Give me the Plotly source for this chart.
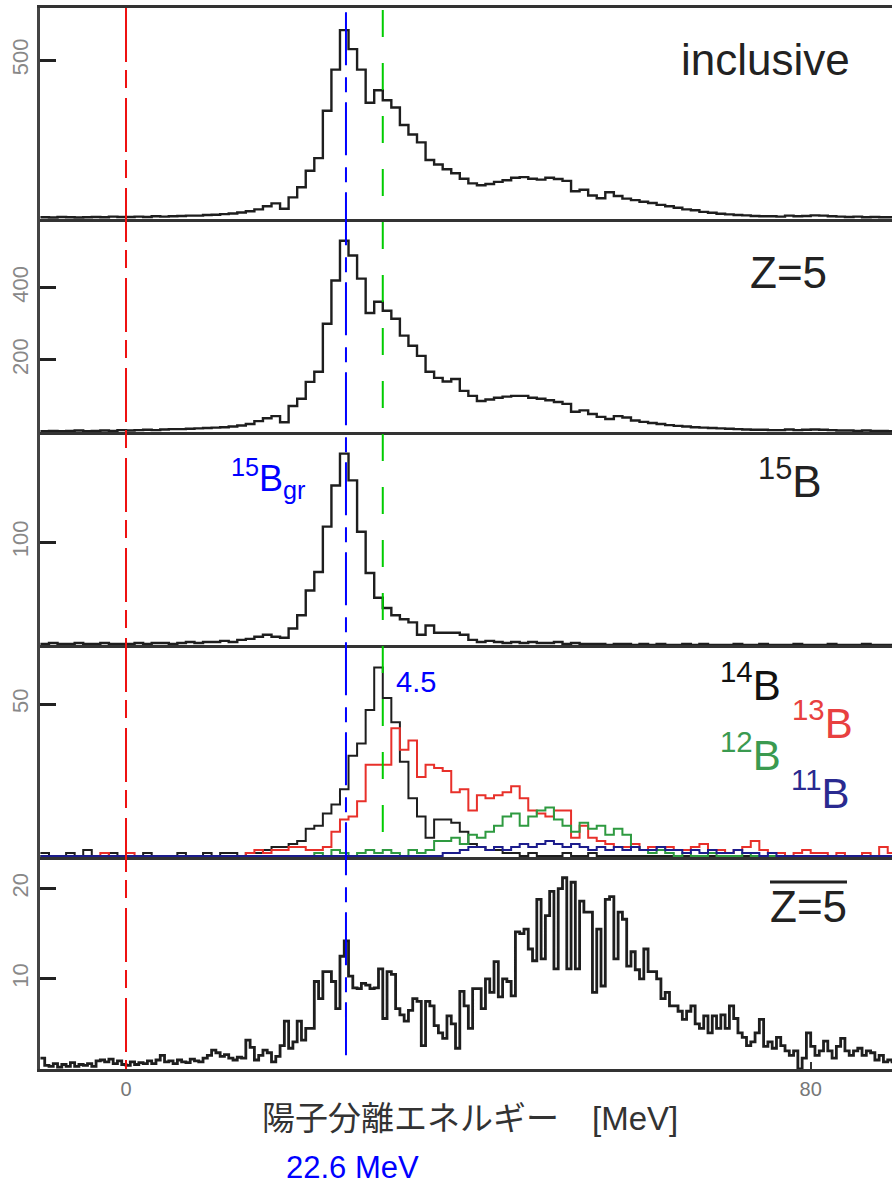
import plotly.graph_objects as go

# ---------------- data ----------------
BIN_START = -10.0
BIN_W = 1.0          # panels 1-4
BIN_W5 = 0.5         # panel 5

inclusive = [
    3, 2, 4, 3, 2, 3, 4, 3, 5, 4,
    4, 5, 4, 6, 5, 6, 7, 8, 8, 10,
    11, 13, 15, 18, 22, 28, 38, 47, 30, 66,
    98, 150, 190, 340, 470, 595, 535, 470, 365, 405,
    373, 350, 295, 265, 240, 184, 170, 155, 142, 125,
    110, 104, 108, 115, 120, 128, 130, 125, 122, 128,
    124, 118, 85, 90, 72, 63, 82, 70, 62, 57,
    52, 48, 42, 38, 33, 28, 25, 20, 17, 14,
    12, 10, 9, 7, 6, 6, 5, 8, 6, 7,
    9, 8, 6, 5, 4, 5, 3, 4, 3, 3]

z5 = [
    2, 3, 2, 3, 4, 2, 3, 4, 3, 5,
    4, 5, 6, 5, 7, 8, 8, 9, 10, 11,
    12, 13, 15, 18, 22, 30, 38, 44, 27, 72,
    92, 139, 167, 300, 420, 530, 489, 425, 330, 361,
    336, 314, 267, 239, 211, 167, 150, 140, 147, 114,
    100, 86, 90, 95, 98, 100, 100, 95, 92, 88,
    83, 78, 56, 60, 50, 42, 36, 44, 40, 32,
    28, 25, 22, 19, 17, 15, 13, 12, 11, 10,
    9, 8, 7, 6, 6, 5, 5, 7, 5, 6,
    7, 6, 5, 4, 4, 3, 4, 3, 3, 2]

b15 = [
    1, 2, 1, 1, 2, 1, 1, 2, 1, 1,
    1, 2, 1, 2, 2, 1, 2, 3, 2, 3,
    3, 4, 3, 5, 6, 8, 10, 8, 7, 16,
    29, 53, 71, 115, 155, 186, 160, 110, 70, 46,
    36, 29, 25, 22, 10, 19, 12, 12, 12, 10,
    5, 3, 4, 3, 2, 3, 2, 3, 2, 2,
    3, 1, 2, 1, 1, 1, 0, 1, 1, 0,
    1, 0, 1, 0, 0, 1, 0, 1, 0, 0,
    0, 1, 0, 0, 1, 0, 0, 0, 1, 0,
    0, 0, 1, 0, 0, 0, 1, 0, 0, 0]

b14 = [
    1, 0, 0, 1, 0, 2, 0, 0, 1, 0,
    0, 0, 1, 0, 0, 0, 1, 0, 0, 1,
    0, 1, 1, 0, 1, 1, 2, 3, 3, 4,
    5, 9, 10, 14, 17, 22, 33, 37, 48, 62,
    52, 44, 31, 19, 13, 6, 12, 12, 11, 8,
    4, 3, 2, 2, 1, 1, 0, 1, 0, 0,
    0, 1, 0, 0, 1, 0, 0, 0, 0, 0,
    0, 0, 0, 0, 0, 0, 0, 0, 0, 0,
    0, 0, 0, 0, 0, 0, 0, 0, 0, 0,
    0, 0, 0, 0, 0, 0, 0, 0, 0, 0]

b13 = [
    0, 0, 0, 0, 0, 0, 0, 1, 0, 0,
    1, 0, 0, 0, 0, 0, 0, 0, 0, 0,
    0, 0, 0, 0, 1, 2, 1, 2, 2, 3,
    3, 2, 2, 3, 8, 12, 13, 18, 30, 30,
    30, 42, 35, 38, 26, 30, 29, 28, 21, 22,
    15, 20, 19, 20, 21, 23, 19, 15, 14, 13,
    15, 15, 6, 10, 6, 5, 4, 3, 3, 4,
    2, 3, 2, 3, 2, 2, 3, 4, 2, 2,
    1, 2, 3, 5, 2, 1, 1, 0, 1, 2,
    1, 1, 0, 1, 0, 0, 1, 0, 3, 1]

b12 = [
    0, 0, 0, 0, 0, 0, 0, 0, 0, 0,
    0, 0, 0, 0, 0, 0, 0, 0, 0, 0,
    0, 0, 0, 0, 0, 0, 0, 0, 0, 0,
    0, 0, 1, 0, 2, 1, 0, 1, 2, 1,
    2, 1, 0, 2, 1, 2, 5, 5, 6, 4,
    7, 6, 8, 10, 13, 14, 10, 13, 15, 16,
    12, 10, 8, 11, 9, 10, 7, 9, 7, 3,
    2, 1, 2, 1, 0, 1, 0, 0, 1, 0,
    0, 0, 1, 0, 0, 0, 0, 0, 0, 0,
    0, 0, 0, 0, 0, 0, 0, 0, 0, 0]

b11 = [
    0, 0, 0, 0, 0, 0, 0, 0, 0, 0,
    0, 0, 0, 0, 0, 0, 0, 0, 0, 0,
    0, 0, 0, 0, 0, 0, 0, 0, 0, 0,
    0, 0, 0, 0, 0, 0, 0, 0, 0, 0,
    0, 0, 0, 0, 0, 0, 0, 1, 1, 2,
    3, 3, 2, 3, 2, 3, 4, 3, 4, 5,
    4, 3, 4, 3, 2, 3, 2, 3, 2, 3,
    2, 2, 3, 2, 2, 1, 2, 1, 2, 1,
    1, 2, 1, 1, 0, 1, 0, 0, 0, 0,
    0, 0, 0, 0, 0, 0, 0, 0, 0, 0]

notz5 = [
    1.2, 0.4, 0.3, 0.6, 0.2, 0.5, 0.3, 0.7, 0.3, 0.5,
    0.4, 0.6, 0.3, 0.9, 1.0, 0.8, 1.1, 0.6, 0.9, 0.5,
    0.4, 0.8, 0.5, 0.7, 0.6, 0.9, 0.6, 1.0, 1.5, 0.8,
    0.9, 0.6, 1.0, 0.8, 0.7, 1.1, 0.9, 0.8, 1.2, 1.5,
    2.1, 1.8, 1.4, 1.6, 1.2, 1.0, 1.3, 1.2, 3.2, 2.4,
    1.0, 1.5, 2.1, 1.8, 0.8, 1.4, 2.6, 5.3, 2.3, 3.0,
    5.3, 3.2, 4.5, 4.5, 9.7, 7.8, 10.8, 10.8, 9.7, 6.7,
    12.5, 14.2, 10.3, 9.0, 8.9, 9.5, 9.3, 8.9, 9.0, 11.1,
    5.6, 10.8, 10.5, 6.7, 6.0, 5.3, 6.5, 7.8, 7.5, 2.6,
    7.5, 7.0, 4.8, 4.0, 3.4, 5.9, 5.0, 2.3, 8.6, 7.0,
    4.5, 8.9, 8.9, 6.7, 10.0, 8.5, 11.9, 8.0, 10.0, 9.7,
    8.1, 15.2, 15.0, 15.5, 13.3, 12.0, 18.8, 12.2, 17.0, 19.7,
    11.1, 20.0, 21.2, 11.1, 20.7, 11.1, 18.6, 17.4, 17.4, 8.5,
    15.5, 9.2, 18.8, 19.1, 12.2, 17.4, 16.6, 11.4, 13.0, 11.0,
    10.0, 13.3, 10.8, 10.8, 10.0, 7.8, 8.5, 7.0, 7.0, 6.4,
    5.5, 6.4, 7.0, 5.0, 4.5, 5.9, 4.0, 5.9, 4.5, 6.0,
    4.5, 7.0, 5.6, 4.0, 3.5, 2.6, 3.0, 4.0, 5.5, 2.5,
    3.0, 2.3, 3.5, 2.6, 2.0, 1.5, 2.0, 0.0, 1.2, 4.0,
    2.5, 1.5, 2.0, 3.1, 2.0, 1.2, 2.5, 3.4, 2.0, 1.5,
    2.0, 2.3, 1.5, 2.0, 1.8, 1.0, 1.5, 0.8, 1.0, 0.8]

x_ticks = [0, 80]
x_tick_text = ["0", "80"]
y_ticks = [[500], [200, 400], [100], [50], [10, 20]]
y_ranges = [[-3, 665], [0, 590], [0, 207], [-0.3, 69.4], [0, 23.5]]
x_range = [-10.05, 89.5]

E_red, E_blue, E_green = 0.0, 25.7, 30.0

BLACK = "#1e1e1e"
RED = "#e8302a"
GREEN = "#2e9a40"
NAVY = "#1c1c8c"


def steps(counts, start, width):
    xs = [start + i * width for i in range(len(counts) + 1)]
    ys = list(counts) + [counts[-1]]
    return xs, ys


fig = go.Figure()

panels = [
    (1, [(inclusive, BLACK, BIN_W, 2.4)]),
    (2, [(z5, BLACK, BIN_W, 2.4)]),
    (3, [(b15, BLACK, BIN_W, 2.4)]),
    (4, [(b14, BLACK, BIN_W, 2.0), (b13, RED, BIN_W, 2.0), (b12, GREEN, BIN_W, 2.0), (b11, NAVY, BIN_W, 2.0)]),
    (5, [(notz5, BLACK, BIN_W5, 2.8)]),
]
for k, series in panels:
    for counts, col, w, lw in series:
        xs, ys = steps(counts, BIN_START, w)
        fig.add_trace(go.Scatter(
            x=xs, y=ys, mode="lines", line=dict(color=col, width=lw, shape="hv"),
            xaxis="x" if k == 1 else f"x{k}", yaxis="y" if k == 1 else f"y{k}",
            showlegend=False, hoverinfo="skip"))

# layout geometry
W, H = 892, 1186
ML, MR, MT, MB = 40, 0, 8, 117
domains = [[0.801, 1.0], [0.6004, 0.801], [0.3996, 0.6004], [0.1998, 0.3996], [0.0, 0.1998]]

layout = dict(
    width=W, height=H, margin=dict(l=ML, r=MR, t=MT, b=MB),
    plot_bgcolor="white", paper_bgcolor="white", showlegend=False,
    font=dict(family="Liberation Sans, Arial, sans-serif", color="#222"),
)
for k in range(1, 6):
    xa = "xaxis" if k == 1 else f"xaxis{k}"
    ya = "yaxis" if k == 1 else f"yaxis{k}"
    ya_id = "y" if k == 1 else f"y{k}"
    last = (k == 5)
    layout[xa] = dict(
        range=x_range, anchor=ya_id, domain=[0, 1],
        showline=True, mirror=(k == 1), linecolor="#333", linewidth=3,
        showgrid=False, zeroline=False,
        ticks="inside" if last else "", tickvals=x_ticks if last else [],
        ticktext=x_tick_text if last else [], ticklen=7, tickwidth=2, tickcolor="#333",
        showticklabels=last, tickfont=dict(size=20, color="#777"),
    )
    if k > 1:
        layout[xa]["matches"] = "x"
    layout[ya] = dict(
        range=y_ranges[k - 1], domain=domains[k - 1], anchor="x" if k == 1 else f"x{k}",
        showline=True, linecolor="#444", linewidth=3, mirror=False,
        showgrid=False, zeroline=False,
        ticks="inside", tickvals=y_ticks[k - 1], ticklen=16, tickwidth=3, tickcolor="#222",
        tickangle=-90, tickfont=dict(size=22, color="#888"),
    )
fig.update_layout(**layout)

# vertical reference lines
fig.add_shape(type="line", xref="x", yref="paper", x0=E_red, x1=E_red, y0=1.0, y1=0.0,
              line=dict(color="#ee1111", width=2, dash="54px,8px,18px,10px"), layer="above")
fig.add_shape(type="line", xref="x", yref="paper", x0=E_blue, x1=E_blue, y0=0.996, y1=0.0066,
              line=dict(color="#0000ff", width=2, dash="53px,12px,15px,10px"), layer="above")
fig.add_shape(type="line", xref="x", yref="paper", x0=E_green, x1=E_green, y0=0.998, y1=0.2177,
              line=dict(color="#00cc00", width=2, dash="27px,26px"), layer="above")


def px2paper_x(px):
    return (px - ML) / (W - ML - MR)


def px2paper_y(py):
    return (H - MB - py) / (H - MT - MB)


def label(text, px, py, size, color, family="Liberation Sans, Arial, sans-serif"):
    fig.add_annotation(text=text, x=px2paper_x(px), y=px2paper_y(py), xref="paper", yref="paper",
                       showarrow=False, xanchor="center", yanchor="middle",
                       font=dict(size=size, color=color, family=family))


label("inclusive", 765, 60, 44, "#222")
label("Z=5", 788, 273, 44, "#222")
label("<sup>15</sup>B", 790, 478, 44, "#222")
label("<sup>15</sup>B<sub>gr</sub>", 268, 478, 36, "#0000ff")
label("4.5", 416, 682, 29, "#0000ff")
label("<sup>14</sup>B", 750, 682, 42, "#111")
label("<sup>13</sup>B", 822, 720, 42, "#e84040")
label("<sup>12</sup>B", 750, 752, 42, "#3a9a50")
label("<sup>11</sup>B", 820, 790, 42, "#2a2a90")
label("Z=5", 808, 906, 44, "#222")
fig.add_shape(type="line", xref="paper", yref="paper",
              x0=px2paper_x(770), x1=px2paper_x(847), y0=px2paper_y(882), y1=px2paper_y(882),
              line=dict(color="#222", width=3))
label("陽子分離エネルギー\u3000[MeV]", 470, 1118, 33, "#333",
      family="Liberation Sans, Noto Sans CJK JP, sans-serif")
label("22.6 MeV", 352, 1167, 31, "#0000ff")

fig.write_html("out.html")
